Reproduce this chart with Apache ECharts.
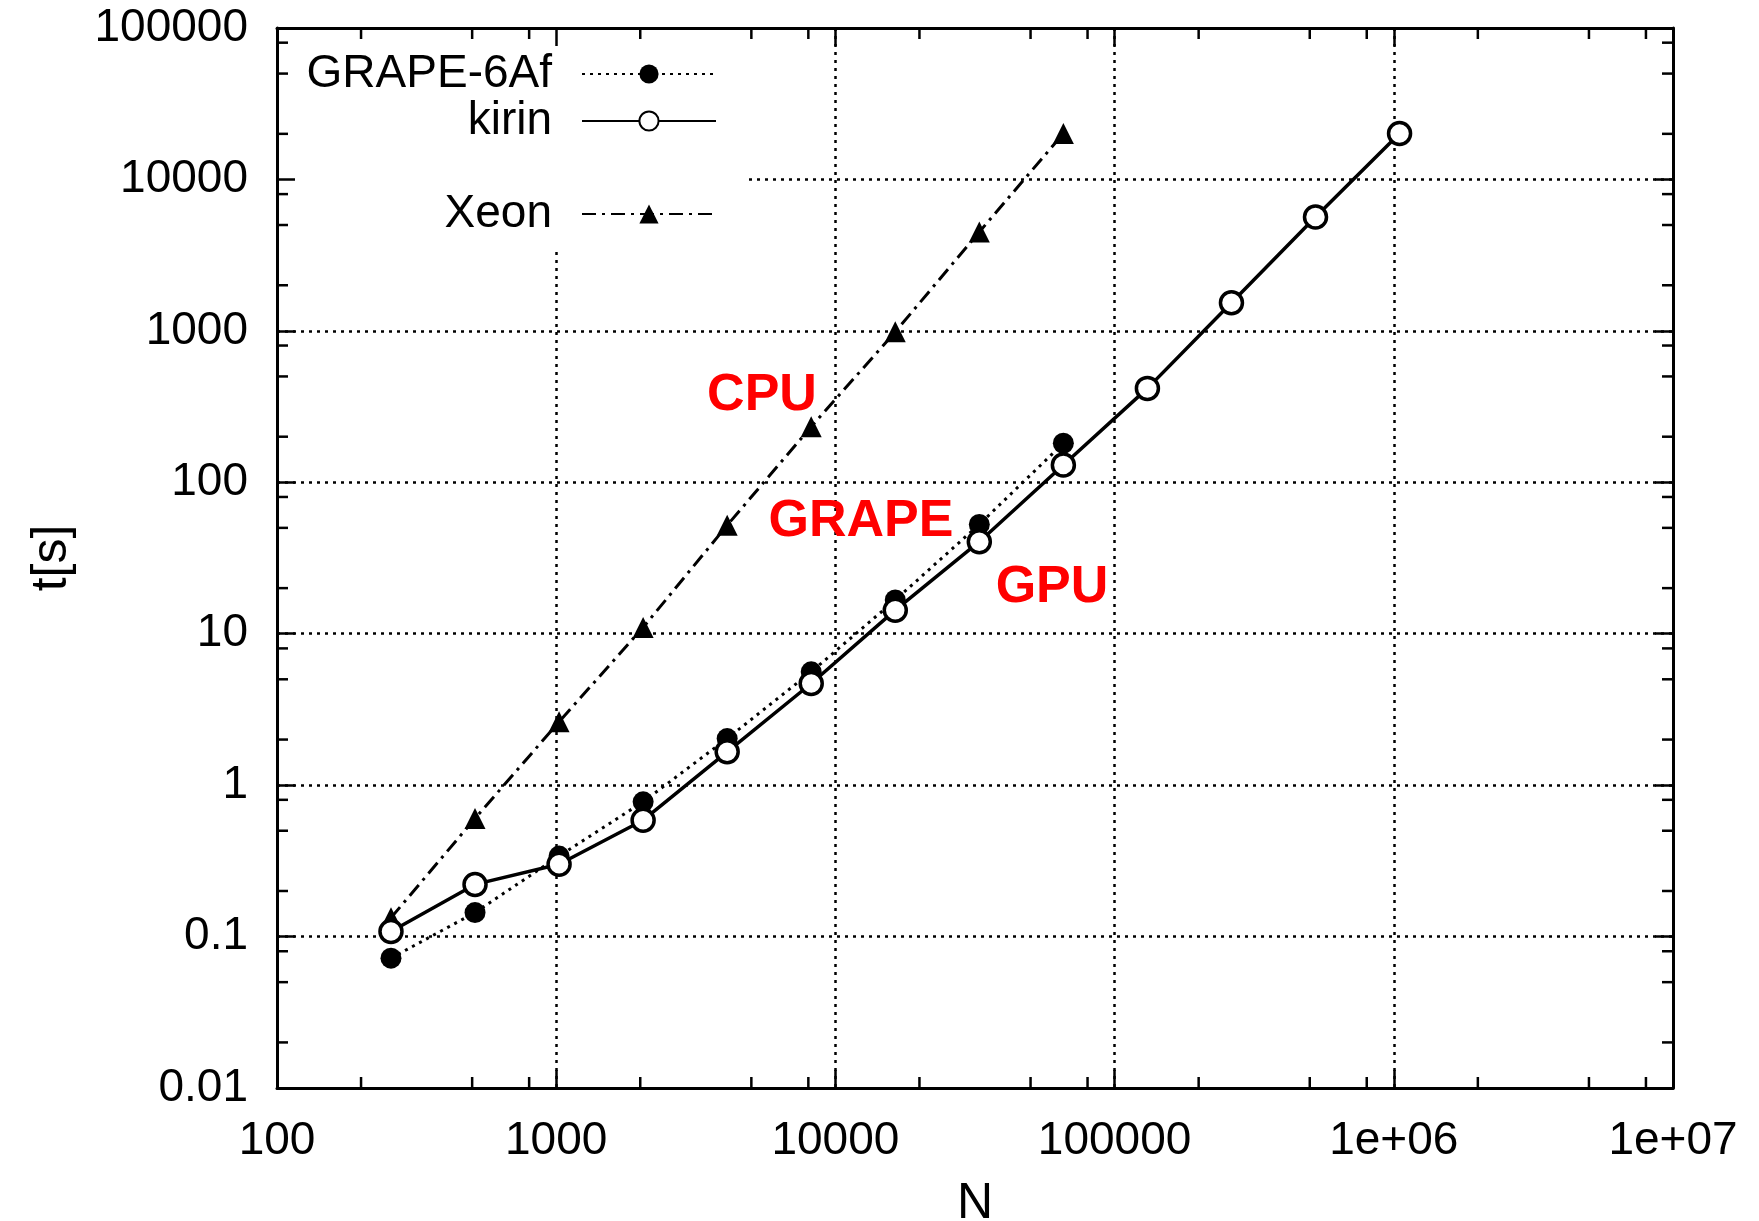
<!DOCTYPE html>
<html>
<head>
<meta charset="utf-8">
<script src="https://cdn.jsdelivr.net/npm/echarts@6/dist/echarts.min.js"></script>
<style>
html,body{margin:0;padding:0;background:#fff;}
#chart{width:1759px;height:1221px;}
</style>
</head>
<body>
<div id="chart"></div>
<script>
// ---- data ----
const nValues = [256, 512, 1024, 2048, 4096, 8192, 16384, 32768, 65536, 131072, 262144, 524288, 1048576];
const grapeTimes = [0.072, 0.144, 0.34, 0.776, 2.03, 5.6, 16.7, 52.7, 181];
const kirinTimes = [0.108, 0.221, 0.30, 0.587, 1.66, 4.69, 14.3, 40.5, 130, 417, 1535, 5650, 20100];
const xeonTimes = [0.133, 0.603, 2.62, 11.0, 52, 233, 985, 4500, 20100];
const xTickLabels = ['100', '1000', '10000', '100000', '1e+06', '1e+07'];
const yTickLabels = ['0.01', '0.1', '1', '10', '100', '1000', '10000', '100000'];
const minorMultipliers = [2, 5, 8];
const xDecades = [100, 1000, 10000, 100000, 1000000];
const yDecades = [0.01, 0.1, 1, 10, 100, 1000, 10000];
const annotations = [
  {text: 'CPU', x: 762, y: 396},
  {text: 'GRAPE', x: 861, y: 522},
  {text: 'GPU', x: 1052, y: 588}
];

const FONT = '"Liberation Sans", Arial, Helvetica, sans-serif';
const X_MIN = 100, X_MAX = 1e7, Y_MIN = 0.01, Y_MAX = 1e5;

function pair(xs, ys) { return ys.map((v, i) => [xs[i], v]); }

const minorData = [];
xDecades.forEach(d => minorMultipliers.forEach(m => minorData.push([m * d, 1, 0])));
yDecades.forEach(d => minorMultipliers.forEach(m => minorData.push([1000, m * d, 1])));

const chart = echarts.init(document.getElementById('chart'), null, {renderer: 'canvas'});

const axisLineStyle = {lineStyle: {color: '#000', width: 3}};
const tickStyle = {show: true, inside: true, length: 18, lineStyle: {color: '#000', width: 2.5}};
const gridLineStyle = {show: true, lineStyle: {color: '#000', width: 2.5, type: [3, 5]}};

function xLabel(v) { return xTickLabels[Math.round(Math.log10(v)) - 2]; }
function yLabel(v) { return yTickLabels[Math.round(Math.log10(v)) + 2]; }

const option = {
  backgroundColor: '#fff',
  animation: false,
  grid: {left: 277, right: 86, top: 28, bottom: 133, containLabel: false, outerBoundsMode: 'none'},
  xAxis: [
    {type: 'log', logBase: 10, min: X_MIN, max: X_MAX, position: 'bottom', z: 10,
     axisLine: axisLineStyle, axisTick: tickStyle, splitLine: {show: false}, minorTick: {show: false},
     axisLabel: {formatter: xLabel, fontSize: 46, color: '#000', fontFamily: FONT, margin: 30},
     name: 'N', nameLocation: 'middle', nameGap: 91,
     nameTextStyle: {fontSize: 50, color: '#000', fontFamily: FONT}},
    {type: 'log', logBase: 10, min: X_MIN, max: X_MAX, position: 'top', z: 10,
     axisLine: axisLineStyle, axisTick: tickStyle, splitLine: {show: false},
     axisLabel: {show: false}},
    {type: 'log', logBase: 10, min: X_MIN, max: X_MAX, position: 'bottom', z: 0,
     axisLine: {show: false}, axisTick: {show: false}, axisLabel: {show: false},
     splitLine: gridLineStyle}
  ],
  yAxis: [
    {type: 'log', logBase: 10, min: Y_MIN, max: Y_MAX, position: 'left', z: 10,
     axisLine: axisLineStyle, axisTick: tickStyle, splitLine: {show: false},
     axisLabel: {formatter: yLabel, fontSize: 46, color: '#000', fontFamily: FONT, margin: 29},
     name: 't[s]', nameLocation: 'middle', nameGap: 200, nameRotate: 90,
     nameTextStyle: {fontSize: 50, color: '#000', fontFamily: FONT}},
    {type: 'log', logBase: 10, min: Y_MIN, max: Y_MAX, position: 'right', z: 10,
     axisLine: axisLineStyle, axisTick: tickStyle, splitLine: {show: false},
     axisLabel: {show: false}},
    {type: 'log', logBase: 10, min: Y_MIN, max: Y_MAX, position: 'left', z: 0,
     axisLine: {show: false}, axisTick: {show: false}, axisLabel: {show: false},
     splitLine: gridLineStyle}
  ],
  legend: [
    {data: ['GRAPE-6Af', 'kirin'], orient: 'vertical', align: 'right', right: 1015, top: 30,
     itemWidth: 134, itemHeight: 24, itemGap: 1, selectedMode: false,
     backgroundColor: '#fff', padding: [21, 27, 22, 28], z: 4,
     textStyle: {fontSize: 46, lineHeight: 40, color: '#000', fontFamily: FONT, padding: [0, 25, 0, 0]}},
    {data: ['Xeon'], orient: 'vertical', align: 'right', right: 1015, top: 158,
     itemWidth: 134, itemHeight: 24, itemGap: 1, selectedMode: false,
     backgroundColor: '#fff', padding: [33, 27, 10, 166], z: 4,
     textStyle: {fontSize: 46, lineHeight: 40, color: '#000', fontFamily: FONT, padding: [0, 25, 0, 0]}}
  ],
  graphic: annotations.map(a => ({
    type: 'text', x: a.x, y: a.y, z: 20,
    style: {text: a.text, fill: '#ff0000', font: 'bold 52px ' + FONT, textAlign: 'center', textVerticalAlign: 'middle'}
  })),
  series: [
    {name: 'GRAPE-6Af', type: 'line', xAxisIndex: 0, yAxisIndex: 0, z: 5,
     data: pair(nValues, grapeTimes), symbol: 'circle', symbolSize: 21,
     lineStyle: {color: '#000', width: 3, type: [3, 5]},
     itemStyle: {color: '#000'}},
    {name: 'kirin', type: 'line', xAxisIndex: 0, yAxisIndex: 0, z: 6,
     data: pair(nValues, kirinTimes), symbol: 'circle', symbolSize: 22,
     lineStyle: {color: '#000', width: 3.5, type: 'solid'},
     itemStyle: {color: '#fff', borderColor: '#000', borderWidth: 3.5}},
    {name: 'Xeon', type: 'line', xAxisIndex: 0, yAxisIndex: 0, z: 5,
     data: pair(nValues, xeonTimes), symbol: 'triangle', symbolSize: 21,
     lineStyle: {color: '#000', width: 3, type: [14, 6, 3, 6]},
     itemStyle: {color: '#000'}},
    {name: 'minorTicks', type: 'custom', xAxisIndex: 0, yAxisIndex: 0, z: 12, silent: true,
     clip: false, data: minorData,
     renderItem: function (params, api) {
       const cs = params.coordSys;
       const kind = api.value(2);
       const len = 11;
       const st = {stroke: '#000', lineWidth: 2.5};
       if (kind === 0) {
         const px = api.coord([api.value(0), 1])[0];
         return {type: 'group', children: [
           {type: 'line', shape: {x1: px, y1: cs.y + cs.height, x2: px, y2: cs.y + cs.height - len}, style: st},
           {type: 'line', shape: {x1: px, y1: cs.y, x2: px, y2: cs.y + len}, style: st}
         ]};
       } else {
         const py = api.coord([1000, api.value(1)])[1];
         return {type: 'group', children: [
           {type: 'line', shape: {x1: cs.x, y1: py, x2: cs.x + len, y2: py}, style: st},
           {type: 'line', shape: {x1: cs.x + cs.width, y1: py, x2: cs.x + cs.width - len, y2: py}, style: st}
         ]};
       }
     }}
  ]
};
chart.setOption(option);
</script>
</body>
</html>
